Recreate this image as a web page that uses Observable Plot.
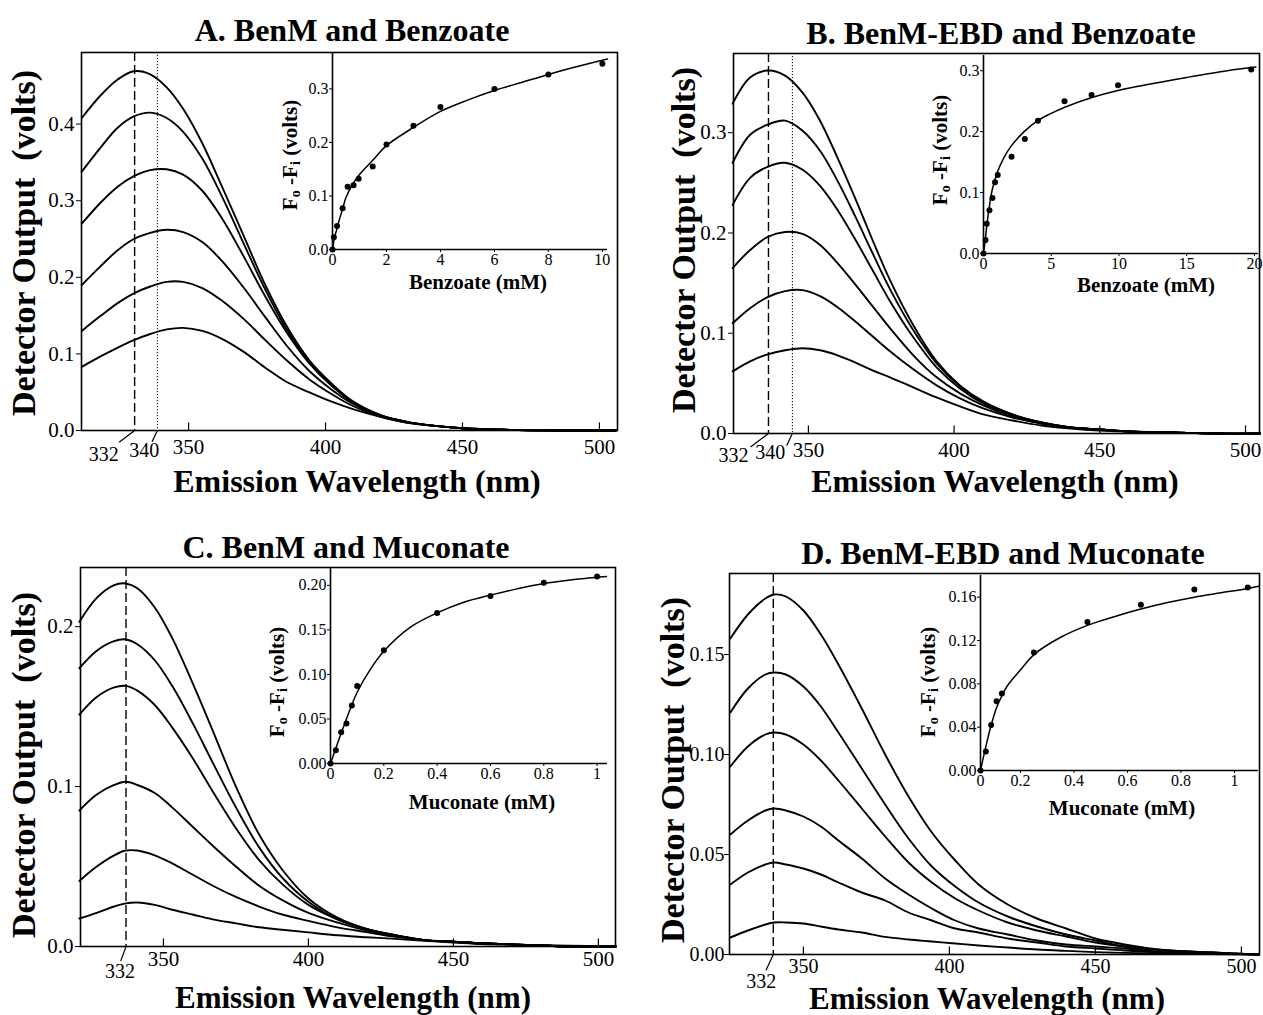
<!DOCTYPE html>
<html><head><meta charset="utf-8">
<script src="https://cdn.jsdelivr.net/npm/d3@7"></script>
<script src="https://cdn.jsdelivr.net/npm/@observablehq/plot@0.6"></script>
<style>
body{margin:0;background:#fff;}
#fig{position:relative;width:1263px;height:1015px;overflow:hidden;font-family:"Liberation Serif","Times New Roman",serif;color:#000;background:#fff;}
.t{position:absolute;white-space:nowrap;line-height:1;transform:translate(-50%,-50%);}
.t sub{font-size:0.68em;vertical-align:-0.25em;}
</style></head><body><div id="fig"></div>
<script>
// ================= DATA =================
// Main spectra: emission wavelength (nm) and detector output (volts), six titrations per panel
const wlA = [311, 318, 324, 330, 336, 342, 348, 355, 362, 370, 378, 386, 394, 402, 410, 420, 430, 440, 450, 465, 485, 506];
const specA = [
  [0.408, 0.438, 0.458, 0.469, 0.465, 0.448, 0.420, 0.375, 0.320, 0.255, 0.190, 0.135, 0.092, 0.062, 0.038, 0.020, 0.011, 0.006, 0.003, 0.001, 0, 0],
  [0.338, 0.370, 0.395, 0.410, 0.415, 0.408, 0.390, 0.355, 0.307, 0.245, 0.184, 0.131, 0.090, 0.060, 0.037, 0.020, 0.011, 0.006, 0.003, 0.001, 0, 0],
  [0.270, 0.298, 0.318, 0.332, 0.340, 0.341, 0.334, 0.313, 0.278, 0.228, 0.175, 0.127, 0.088, 0.059, 0.037, 0.020, 0.011, 0.006, 0.003, 0.001, 0, 0],
  [0.190, 0.215, 0.235, 0.250, 0.258, 0.262, 0.259, 0.246, 0.222, 0.187, 0.148, 0.110, 0.078, 0.054, 0.035, 0.019, 0.011, 0.006, 0.003, 0.001, 0, 0],
  [0.130, 0.150, 0.166, 0.179, 0.188, 0.194, 0.194, 0.186, 0.170, 0.146, 0.118, 0.091, 0.067, 0.048, 0.032, 0.018, 0.010, 0.006, 0.003, 0.001, 0, 0],
  [0.083, 0.097, 0.108, 0.118, 0.126, 0.132, 0.134, 0.130, 0.120, 0.103, 0.082, 0.063, 0.050, 0.038, 0.028, 0.018, 0.010, 0.006, 0.003, 0.001, 0, 0]
];
const wlB = [324, 330, 336, 342, 348, 354, 360, 366, 372, 378, 386, 394, 402, 410, 420, 430, 440, 450, 460, 475, 490, 505];
const specB = [
  [0.329, 0.355, 0.362, 0.357, 0.340, 0.312, 0.275, 0.235, 0.193, 0.153, 0.108, 0.072, 0.048, 0.032, 0.019, 0.011, 0.006, 0.004, 0.002, 0.001, 0, 0],
  [0.270, 0.298, 0.308, 0.312, 0.302, 0.282, 0.252, 0.217, 0.180, 0.144, 0.103, 0.070, 0.047, 0.031, 0.019, 0.011, 0.006, 0.004, 0.002, 0.001, 0, 0],
  [0.228, 0.255, 0.266, 0.270, 0.263, 0.247, 0.223, 0.194, 0.163, 0.132, 0.096, 0.066, 0.045, 0.030, 0.018, 0.011, 0.006, 0.004, 0.002, 0.001, 0, 0],
  [0.165, 0.183, 0.196, 0.201, 0.199, 0.188, 0.170, 0.149, 0.127, 0.105, 0.078, 0.056, 0.040, 0.028, 0.017, 0.010, 0.006, 0.004, 0.002, 0.001, 0, 0],
  [0.110, 0.125, 0.136, 0.142, 0.143, 0.137, 0.126, 0.112, 0.097, 0.082, 0.064, 0.048, 0.035, 0.025, 0.016, 0.010, 0.006, 0.004, 0.002, 0.001, 0, 0],
  [0.062, 0.072, 0.079, 0.083, 0.085, 0.083, 0.078, 0.071, 0.063, 0.056, 0.046, 0.036, 0.027, 0.019, 0.013, 0.008, 0.005, 0.003, 0.002, 0.001, 0, 0]
];
const wlC = [321, 327, 333, 337, 341, 347, 353, 360, 367, 375, 383, 391, 400, 410, 420, 430, 440, 450, 460, 475, 490, 506];
const specC = [
  [0.203, 0.218, 0.226, 0.227, 0.224, 0.212, 0.193, 0.165, 0.135, 0.100, 0.070, 0.048, 0.030, 0.018, 0.011, 0.007, 0.004, 0.003, 0.002, 0.001, 0, 0],
  [0.174, 0.185, 0.191, 0.192, 0.189, 0.179, 0.163, 0.140, 0.115, 0.087, 0.062, 0.043, 0.028, 0.017, 0.011, 0.007, 0.004, 0.003, 0.002, 0.001, 0, 0],
  [0.145, 0.156, 0.162, 0.163, 0.160, 0.151, 0.137, 0.118, 0.097, 0.074, 0.054, 0.039, 0.026, 0.017, 0.011, 0.007, 0.004, 0.003, 0.002, 0.001, 0, 0],
  [0.085, 0.095, 0.101, 0.103, 0.101, 0.096, 0.087, 0.075, 0.063, 0.050, 0.038, 0.029, 0.021, 0.015, 0.010, 0.007, 0.004, 0.003, 0.002, 0.001, 0, 0],
  [0.041, 0.050, 0.057, 0.060, 0.060, 0.057, 0.052, 0.045, 0.038, 0.031, 0.025, 0.020, 0.016, 0.012, 0.009, 0.006, 0.004, 0.003, 0.002, 0.001, 0, 0],
  [0.0175, 0.021, 0.025, 0.027, 0.0275, 0.026, 0.023, 0.020, 0.017, 0.0145, 0.012, 0.0105, 0.0088, 0.007, 0.0058, 0.0048, 0.0035, 0.0025, 0.0015, 0.001, 0.0005, 0]
];
const wlD = [325, 331, 337, 340, 344, 350, 356, 362, 370, 378, 386, 394, 402, 410, 420, 430, 440, 450, 460, 475, 490, 506];
const specD = [
  [0.158, 0.170, 0.178, 0.180, 0.179, 0.172, 0.160, 0.145, 0.123, 0.100, 0.079, 0.061, 0.047, 0.035, 0.025, 0.018, 0.013, 0.008, 0.005, 0.002, 0.001, 0],
  [0.121, 0.133, 0.140, 0.141, 0.140, 0.134, 0.124, 0.111, 0.093, 0.075, 0.058, 0.044, 0.034, 0.026, 0.019, 0.014, 0.010, 0.007, 0.004, 0.002, 0.001, 0],
  [0.094, 0.104, 0.110, 0.111, 0.110, 0.105, 0.097, 0.087, 0.073, 0.059, 0.046, 0.036, 0.028, 0.022, 0.016, 0.012, 0.009, 0.006, 0.004, 0.002, 0.001, 0],
  [0.060, 0.067, 0.072, 0.073, 0.072, 0.069, 0.064, 0.057, 0.048, 0.038, 0.030, 0.023, 0.017, 0.013, 0.010, 0.007, 0.005, 0.004, 0.003, 0.001, 0.0005, 0],
  [0.035, 0.041, 0.045, 0.046, 0.045, 0.043, 0.040, 0.036, 0.031, 0.027, 0.021, 0.017, 0.013, 0.011, 0.008, 0.006, 0.004, 0.003, 0.002, 0.001, 0.0005, 0],
  [0.0085, 0.012, 0.015, 0.016, 0.016, 0.0155, 0.014, 0.0125, 0.011, 0.0088, 0.0075, 0.0065, 0.0055, 0.0045, 0.0035, 0.0025, 0.0018, 0.0012, 0.0008, 0.0004, 0.0002, 0]
];

// Reference wavelength markers (position on the drawn axis, and printed label)
const refPosA = [330.3, 338.6], refLabelA = ["332", "340"];
const refPosB = [336.3, 344.5], refLabelB = ["332", "340"];
const refPosC = [337.1],        refLabelC = ["332"];
const refPosD = [339.7],        refLabelD = ["332"];

// Main axis ticks
const xTicksMain = [350, 400, 450, 500];
const yTicksA = [0, 0.1, 0.2, 0.3, 0.4];
const yTicksB = [0, 0.1, 0.2, 0.3];
const yTicksC = [0, 0.1, 0.2];
const yTicksD = [0, 0.05, 0.10, 0.15];

// Insets: ligand concentration (mM) vs F0 - Fi (volts)
const concA = [0, 0.05, 0.17, 0.375, 0.56, 0.78, 0.97, 1.49, 2.0, 3.0, 4.0, 6.0, 8.0, 10.0];
const respA = [0, 0.023, 0.044, 0.077, 0.117, 0.120, 0.132, 0.155, 0.196, 0.231, 0.266, 0.300, 0.327, 0.347];
const fitConcA = [0, 0.05, 0.1, 0.17, 0.25, 0.375, 0.5, 0.75, 1, 1.5, 2, 3, 4, 5, 6, 7, 8, 9, 10.19];
const fitRespA = [0, 0.016, 0.027, 0.040, 0.055, 0.076, 0.097, 0.122, 0.140, 0.167, 0.194, 0.228, 0.258, 0.279, 0.297, 0.312, 0.327, 0.341, 0.356];

const concB = [0, 0.15, 0.24, 0.44, 0.66, 0.85, 1.05, 2.07, 3.05, 4.02, 5.98, 7.98, 9.93, 19.76];
const respB = [0, 0.022, 0.049, 0.071, 0.091, 0.117, 0.129, 0.159, 0.188, 0.218, 0.250, 0.260, 0.276, 0.302];
const fitConcB = [0, 0.15, 0.25, 0.45, 0.65, 1, 1.5, 2, 3, 4, 5, 6, 8, 10, 12, 15, 18, 20.1];
const fitRespB = [0, 0.026, 0.047, 0.080, 0.105, 0.132, 0.157, 0.175, 0.200, 0.218, 0.230, 0.240, 0.256, 0.268, 0.277, 0.289, 0.300, 0.306];

const concC = [0, 0.02, 0.04, 0.06, 0.08, 0.1, 0.2, 0.4, 0.6, 0.8, 1.0];
const respC = [0, 0.015, 0.035, 0.045, 0.065, 0.087, 0.127, 0.169, 0.188, 0.203, 0.210];
const fitConcC = [0, 0.05, 0.1, 0.15, 0.2, 0.3, 0.4, 0.5, 0.6, 0.7, 0.8, 0.9, 1.0, 1.035];
const fitRespC = [0, 0.042, 0.080, 0.106, 0.126, 0.153, 0.169, 0.181, 0.189, 0.196, 0.202, 0.206, 0.209, 0.210];

const concD = [0, 0.02, 0.04, 0.06, 0.08, 0.2, 0.4, 0.6, 0.8, 1.0];
const respD = [0, 0.0175, 0.042, 0.064, 0.071, 0.109, 0.137, 0.153, 0.167, 0.169];
const fitConcD = [0, 0.02, 0.04, 0.06, 0.08, 0.1, 0.15, 0.2, 0.3, 0.4, 0.5, 0.6, 0.7, 0.8, 0.9, 1.0, 1.04];
const fitRespD = [0, 0.022, 0.042, 0.058, 0.069, 0.078, 0.093, 0.107, 0.123, 0.134, 0.142, 0.149, 0.155, 0.160, 0.164, 0.168, 0.170];

const insetXTicksA = [0, 2, 4, 6, 8, 10];
const insetYTicksA = [0, 0.1, 0.2, 0.3];
const insetXTicksB = [0, 5, 10, 15, 20];
const insetYTicksB = [0, 0.1, 0.2, 0.3];
const insetXTicksC = [0, 0.2, 0.4, 0.6, 0.8, 1];
const insetXLabelsC = ["0", "0.2", "0.4", "0.6", "0.8", "1"];
const insetYTicksC = [0, 0.05, 0.10, 0.15, 0.20];
const insetXTicksD = [0, 0.15, 0.35, 0.55, 0.75, 0.95];
const insetXLabelsD = ["0", "0.2", "0.4", "0.6", "0.8", "1"];
const insetYTicksD = [0, 0.04, 0.08, 0.12, 0.16];

const titles = ["A. BenM and Benzoate", "B. BenM-EBD and Benzoate", "C. BenM and Muconate", "D. BenM-EBD and Muconate"];
const ligands = ["Benzoate (mM)", "Benzoate (mM)", "Muconate (mM)", "Muconate (mM)"];

// ================= DRAWING =================
const fig = document.getElementById("fig");
const FONT = '"Liberation Serif", "Times New Roman", serif';
const leaderShape = {draw(context, l) { context.moveTo(0, 0); context.lineTo(0, -l); }};

function leader(pos, len, rot) {
  try {
    return Plot.vector([pos], {x: d => d, y: () => 0, length: len, rotate: rot, anchor: "start", shape: leaderShape, stroke: "black", strokeWidth: 1.2});
  } catch (e) {
    return Plot.vector([pos], {x: d => d, y: () => 0, length: len, rotate: rot, anchor: "start", shape: "spike", r: 0.6, stroke: "black", strokeWidth: 1});
  }
}

function place(el, left, top) {
  el.style.position = "absolute";
  el.style.left = left + "px";
  el.style.top = top + "px";
  fig.appendChild(el);
}

function mainPlot(L) {
  const [x0, y0, x1, y1] = L.frame;
  const rows = L.spec.flatMap((s, k) => s.map((v, i) => ({nm: L.wl[i], v, k})));
  const marks = [
    Plot.ruleX(xTicksMain, {y1: 0, y2: L.yDomain[1] * 0.02, strokeWidth: 1.2}),
    Plot.line(rows, {x: "nm", y: "v", z: "k", curve: "catmull-rom", strokeWidth: 1.9, stroke: "black"}),
    Plot.ruleX([L.refPos[0]], {strokeDasharray: "9,4", strokeWidth: 1.4}),
  ];
  if (L.refPos.length > 1) marks.push(Plot.ruleX([L.refPos[1]], {strokeDasharray: "1.2,1.8", strokeWidth: 1}));
  L.refPos.forEach((p, i) => {
    const s = L.refStyle[i];
    marks.push(leader(p, s.len, s.rot));
    marks.push(Plot.text([p], {x: d => d, y: () => 0, text: () => L.refLabel[i], dx: s.dx, dy: s.dy, fontSize: 20, fontFamily: FONT}));
  });
  marks.push(Plot.frame({strokeWidth: 1.6}));
  const svg = Plot.plot({
    width: L.width, height: L.height,
    marginLeft: x0 - L.left, marginTop: y0 - L.top, marginRight: L.left + L.width - x1, marginBottom: L.top + L.height - y1,
    style: {background: "transparent", fontFamily: FONT, fontSize: (L.tickFont || 21) + "px", overflow: "visible", color: "black"},
    x: {domain: L.xDomain, ticks: xTicksMain, tickSize: 0, tickPadding: L.xPad ?? 9, label: null},
    y: {domain: L.yDomain, ticks: L.yTicks, tickFormat: d3.format(L.yFmt), tickSize: 5, tickPadding: L.yPad ?? 2, label: null},
    marks
  });
  place(svg, L.left, L.top);
}

function insetPlot(I) {
  const [x0, y0, x1, y1] = I.frame;
  const pts = I.conc.map((c, i) => ({c, r: I.resp[i]}));
  const fit = I.fitConc.map((c, i) => ({c, r: I.fitResp[i]}));
  const xMap = I.xLabels ? new Map(I.xTicks.map((t, i) => [t, I.xLabels[i]])) : null;
  const svg = Plot.plot({
    width: I.width, height: I.height,
    marginLeft: x0 - I.left, marginTop: y0 - I.top, marginRight: I.left + I.width - x1, marginBottom: I.top + I.height - y1,
    style: {background: "transparent", fontFamily: FONT, fontSize: "16px", overflow: "visible", color: "black"},
    x: {domain: I.xDomain, ticks: I.xTicks, tickFormat: xMap ? (d => xMap.get(d)) : d3.format("d"), tickSize: 3, tickPadding: 1, label: null},
    y: {domain: I.yDomain, ticks: I.yTicks, tickFormat: d3.format(I.yFmt), tickSize: 3, tickPadding: 1, label: null},
    marks: [
      Plot.ruleX([I.xDomain[0]], {strokeWidth: 1.6}),
      Plot.ruleY([0], {strokeWidth: 1.6}),
      Plot.line(fit, {x: "c", y: "r", curve: "catmull-rom", strokeWidth: 1.5}),
      Plot.dot(pts, {x: "c", y: "r", r: 3, fill: "black", stroke: "none"})
    ]
  });
  place(svg, I.left, I.top);
}

function txt(html, x, y, size, opts = {}) {
  const d = document.createElement("div");
  d.className = "t";
  d.style.left = x + "px";
  d.style.top = y + "px";
  d.style.fontSize = size + "px";
  d.style.fontWeight = opts.weight || "bold";
  if (opts.rot) d.style.transform = "translate(-50%,-50%) rotate(-90deg)";
  d.innerHTML = html;
  fig.appendChild(d);
}

// ---- Panels ----
mainPlot({left: 0, top: 0, width: 640, height: 520, frame: [81, 52, 617, 430],
  xDomain: [310.9, 506.6], yDomain: [0, 0.4935], yTicks: yTicksA, yFmt: ".1f",
  wl: wlA, spec: specA, refPos: refPosA, refLabel: refLabelA,
  refStyle: [{dx: -31, dy: 24, len: 19, rot: 233}, {dx: -13, dy: 20, len: 12, rot: 205}]});
mainPlot({left: 640, top: 0, width: 623, height: 520, frame: [733, 53, 1259, 433],
  xDomain: [324.3, 504.8], yDomain: [0, 0.379], yTicks: yTicksB, yFmt: ".1f",
  wl: wlB, spec: specB, refPos: refPosB, refLabel: refLabelB,
  refStyle: [{dx: -35, dy: 22, len: 22, rot: 233}, {dx: -22, dy: 19, len: 13, rot: 205}]});
mainPlot({left: 0, top: 520, width: 640, height: 495, frame: [80, 567, 615, 946],
  xDomain: [321.4, 505.9], yDomain: [0, 0.237], yTicks: yTicksC, yFmt: ".1f", xPad: 5,
  wl: wlC, spec: specC, refPos: refPosC, refLabel: refLabelC,
  refStyle: [{dx: -6, dy: 25, len: 15, rot: 200}]});
mainPlot({left: 640, top: 520, width: 623, height: 495, frame: [729, 573, 1259, 954],
  xDomain: [324.7, 506.2], yDomain: [0, 0.1905], yTicks: yTicksD, yFmt: ".2f", yPad: 0, xPad: 4, tickFont: 20,
  wl: wlD, spec: specD, refPos: refPosD, refLabel: refLabelD,
  refStyle: [{dx: -12, dy: 27, len: 17, rot: 205}]});

insetPlot({left: 270, top: 40, width: 345, height: 232, frame: [332, 52, 607, 249],
  xDomain: [0, 10.19], yDomain: [0, 0.368], xTicks: insetXTicksA, yTicks: insetYTicksA, yFmt: ".1f",
  conc: concA, resp: respA, fitConc: fitConcA, fitResp: fitRespA});
insetPlot({left: 920, top: 40, width: 343, height: 235, frame: [983, 55, 1258, 253],
  xDomain: [0, 20.3], yDomain: [0, 0.325], xTicks: insetXTicksB, yTicks: insetYTicksB, yFmt: ".1f",
  conc: concB, resp: respB, fitConc: fitConcB, fitResp: fitRespB});
insetPlot({left: 270, top: 555, width: 345, height: 230, frame: [330, 567, 607, 763],
  xDomain: [0, 1.039], yDomain: [0, 0.22], xTicks: insetXTicksC, xLabels: insetXLabelsC, yTicks: insetYTicksC, yFmt: ".2f",
  conc: concC, resp: respC, fitConc: fitConcC, fitResp: fitRespC});
insetPlot({left: 920, top: 560, width: 343, height: 232, frame: [980, 575, 1258, 770],
  xDomain: [0, 1.04], yDomain: [0, 0.18], xTicks: insetXTicksD, xLabels: insetXLabelsD, yTicks: insetYTicksD, yFmt: ".2f",
  conc: concD, resp: respD, fitConc: fitConcD, fitResp: fitRespD});

// ---- Titles and axis labels ----
const fLabel = "F<sub>o</sub> -F<sub>i</sub> (volts)";
const yMain = "Detector Output&nbsp; (volts)";
const xMain = "Emission Wavelength (nm)";
txt(titles[0], 352, 30, 32);
txt(titles[1], 1001, 33, 32);
txt(titles[2], 346, 547, 32);
txt(titles[3], 1003, 553, 32);
txt(xMain, 357, 481, 32); txt(xMain, 995, 481, 32);
txt(xMain, 353, 997, 31); txt(xMain, 987, 998, 31);
txt(yMain, 24, 243, 34, {rot: true}); txt(yMain, 684, 240, 34, {rot: true});
txt(yMain, 24, 765, 34, {rot: true}); txt(yMain, 673, 770, 34, {rot: true});
txt(fLabel, 291, 155, 21, {rot: true}); txt(fLabel, 941, 150, 21, {rot: true});
txt(fLabel, 278, 682, 21, {rot: true}); txt(fLabel, 929, 682, 21, {rot: true});
txt(ligands[0], 478, 282, 21); txt(ligands[1], 1146, 285, 21);
txt(ligands[2], 482, 802, 21); txt(ligands[3], 1122, 808, 21);
</script></body></html>
